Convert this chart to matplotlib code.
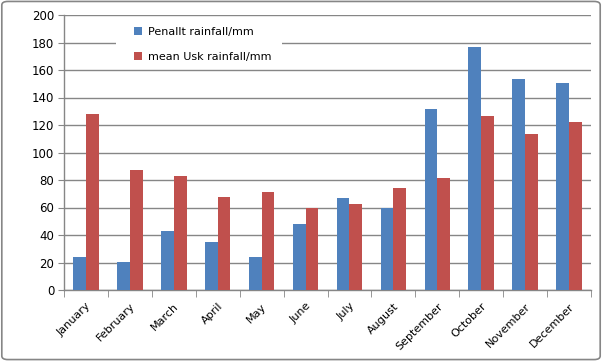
import matplotlib
matplotlib.use("Agg")
import matplotlib.pyplot as plt
import numpy as np
from matplotlib.patches import FancyBboxPatch, Rectangle

months = ["January", "February", "March", "April", "May", "June", "July",
          "August", "September", "October", "November", "December"]
penallt = [24, 20.5, 43, 35, 24, 48, 67, 60, 131.5, 176.5, 153.5, 150.5]
usk = [128, 87.3, 83, 67.5, 71, 60, 62.5, 74, 81.5, 126.5, 113.5, 122]
series_labels = ["Penallt rainfall/mm", "mean Usk rainfall/mm"]
yticks = [0, 20, 40, 60, 80, 100, 120, 140, 160, 180, 200]

fig = plt.figure(figsize=(6.02, 3.61), dpi=100)
W, H = 602, 361
ax_l, ax_r, ax_t, ax_b = 64, 591, 15, 290
ax = fig.add_axes([ax_l / W, 1 - ax_b / H, (ax_r - ax_l) / W, (ax_b - ax_t) / H])
aw, ah = ax_r - ax_l, ax_b - ax_t

x = np.arange(len(months))
bw = 0.29
blue = "#4F81BD"
red = "#C0504D"
ax.bar(x - bw / 2, penallt, bw, color=blue, label=series_labels[0], zorder=3)
ax.bar(x + bw / 2, usk, bw, color=red, label=series_labels[1], zorder=3)

ax.set_xlim(-0.5, len(months) - 0.5)
ax.set_ylim(0, 200)
ax.set_yticks(yticks)
ax.set_yticklabels([str(v) for v in yticks], fontsize=8.5)
ax.yaxis.grid(True, color="#868686", linewidth=1.0, zorder=0)
ax.tick_params(axis="y", length=4, color="#868686", pad=3)

ax.set_xticks(x)
ax.set_xticklabels(months, rotation=45, ha="right", rotation_mode="anchor", fontsize=8)
ax.tick_params(axis="x", which="major", length=0, pad=8)
ax.set_xticks(np.arange(-0.5, len(months), 1), minor=True)
ax.tick_params(axis="x", which="minor", length=5, color="#868686", direction="out")

for s in ["top", "right"]:
    ax.spines[s].set_visible(False)
for s in ["left", "bottom"]:
    ax.spines[s].set_color("#868686")
    ax.spines[s].set_linewidth(1.0)
ax.set_axisbelow(True)

# white background behind legend (covers gridlines)
bg = Rectangle(((116 - ax_l) / aw, 1 - (67 - ax_t) / ah), (282 - 116) / aw, (67 - 18) / ah,
               transform=ax.transAxes, facecolor="white", edgecolor="none", zorder=1)
ax.add_patch(bg)

leg = ax.legend(loc="upper left", bbox_to_anchor=((134 - ax_l) / aw, 1 - (27 - ax_t) / ah),
                frameon=False, fontsize=8, handlelength=0.7, handleheight=0.7,
                borderpad=0, labelspacing=1.35, handletextpad=0.6, borderaxespad=0)
leg.set_zorder(5)

border = FancyBboxPatch((0.003, 0.004), 0.994, 0.992, boxstyle="round,pad=0,rounding_size=0.01",
                        transform=fig.transFigure, fill=False, edgecolor="#868686",
                        linewidth=1.2)
fig.patches.append(border)

fig.savefig("out.png", dpi=100)
